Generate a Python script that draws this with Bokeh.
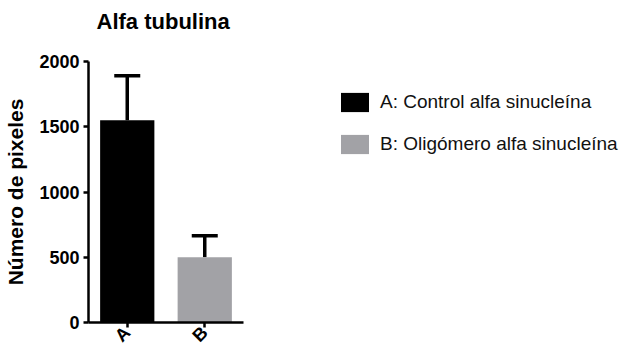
import math
from bokeh.plotting import figure
from bokeh.models import ColumnDataSource, Range1d, Legend, LegendItem, TeeHead, Whisker, FixedTicker
from bokeh.embed import file_html
from bokeh.resources import INLINE

categories = ["A", "B"]
means = [1550, 500]
errors_upper = [1890, 665]
bar_colors = ["#000000", "#A2A2A6"]
legend_labels = ["A: Control alfa sinucleína", "B: Oligómero alfa sinucleína"]
y_ticks = [0, 500, 1000, 1500, 2000]

FONT = "Liberation Sans"

xpos = [i + 0.5 for i in range(len(categories))]
src = ColumnDataSource(dict(x=xpos, cat=categories, mean=means, upper=errors_upper,
                            color=bar_colors, label=legend_labels))

W, H = 620, 355
LEFT, TOP, BOTTOM = 88, 61, 32
frame_w = W - LEFT
p = figure(width=W, height=H, x_range=Range1d(0, frame_w / 77.5),
           y_range=Range1d(0, 2000), output_backend="svg", toolbar_location=None,
           title="Alfa tubulina\n ")
p.min_border_left = LEFT
p.min_border_right = 0
p.min_border_top = TOP
p.min_border_bottom = BOTTOM
p.outline_line_color = None
p.grid.visible = False
p.background_fill_color = "white"
p.border_fill_color = "white"

bars = p.vbar(x="x", top="mean", width=0.7, source=src, fill_color="color",
              line_color=None)

w = Whisker(base="x", lower="mean", upper="upper", source=src,
            upper_head=TeeHead(size=26, line_width=3.5, line_color="black"),
            lower_head=None, line_color="black", line_width=3.5)
p.add_layout(w)

p.title.text_font = FONT
p.title.text_font_size = "22px"
p.title.text_font_style = "bold"
p.title.text_color = "black"
p.title.align = "left"
p.title.offset = 8
p.title.standoff = 6

p.yaxis.ticker = y_ticks
p.yaxis.axis_label = "Número de pixeles"
p.yaxis.axis_label_text_font = FONT
p.yaxis.axis_label_text_font_size = "21px"
p.yaxis.axis_label_text_font_style = "bold"
p.yaxis.axis_label_text_color = "black"
p.yaxis.axis_label_standoff = 9
p.xaxis.ticker = FixedTicker(ticks=xpos)
p.xaxis.major_label_overrides = {xv: c for xv, c in zip(xpos, categories)}
p.xaxis.bounds = (0, len(categories))
p.axis.major_label_text_font = FONT
p.axis.major_label_text_font_size = "18px"
p.axis.major_label_text_font_style = "bold"
p.axis.major_label_text_color = "black"
p.axis.axis_line_width = 2.5
p.axis.axis_line_color = "black"
p.axis.major_tick_line_width = 2.5
p.axis.major_tick_line_color = "black"
p.axis.major_tick_out = 5
p.axis.major_tick_in = 0
p.axis.minor_tick_line_color = None
p.yaxis.major_label_standoff = 4
p.xaxis.major_label_orientation = math.pi / 4
p.xaxis.major_label_standoff = 2

items = [LegendItem(label=legend_labels[i], renderers=[bars], index=i) for i in range(len(categories))]
legend = Legend(items=items, location=(249, 166), padding=0, spacing=18, margin=0,
                glyph_width=35, glyph_height=24, label_standoff=8,
                label_text_font=FONT, label_text_font_size="19px",
                label_text_color="#111111",
                border_line_color=None, background_fill_alpha=0)
p.add_layout(legend, "center")

open("out.html", "w").write(file_html(p, INLINE))
